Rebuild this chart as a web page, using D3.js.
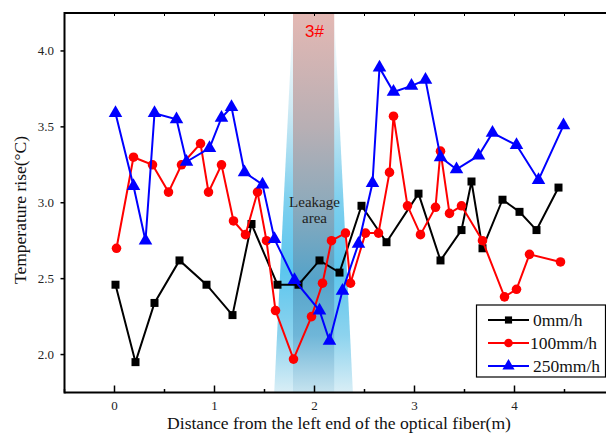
<!DOCTYPE html>
<html><head><meta charset="utf-8">
<script src="https://cdn.jsdelivr.net/npm/d3@7"></script>
<style>body{margin:0;background:#fff}svg{display:block}</style>
</head><body>
<svg id="c" width="606" height="434"></svg>
<script>
const blackX=[0.01,0.21,0.40,0.65,0.92,1.18,1.37,1.63,1.84,2.05,2.25,2.47,2.72,3.04,3.26,3.47,3.57,3.68,3.88,4.05,4.22,4.44];
const blackY=[2.46,1.95,2.34,2.62,2.46,2.26,2.86,2.46,2.46,2.62,2.54,2.98,2.74,3.06,2.62,2.82,3.14,2.70,3.02,2.94,2.82,3.10];
const redX=[0.02,0.19,0.38,0.54,0.67,0.86,0.94,1.07,1.19,1.31,1.43,1.52,1.61,1.79,1.97,2.08,2.17,2.31,2.36,2.51,2.64,2.75,2.79,2.93,3.06,3.21,3.26,3.35,3.47,3.68,3.90,4.02,4.15,4.46];
const redY=[2.70,3.30,3.25,3.07,3.25,3.39,3.07,3.25,2.88,2.79,3.07,2.75,2.29,1.97,2.25,2.47,2.75,2.80,2.47,2.80,2.80,3.20,3.57,2.98,2.79,2.97,3.34,2.93,2.98,2.75,2.38,2.43,2.66,2.61];
const blueX=[0.01,0.19,0.31,0.40,0.62,0.72,0.95,1.07,1.17,1.30,1.48,1.60,1.80,2.05,2.15,2.28,2.44,2.58,2.65,2.79,2.97,3.11,3.26,3.42,3.64,3.78,4.02,4.24,4.49];
const blueY=[3.59,3.11,2.75,3.59,3.55,3.27,3.36,3.56,3.63,3.20,3.12,2.76,2.49,2.29,2.09,2.42,2.73,3.13,3.89,3.73,3.77,3.81,3.30,3.22,3.31,3.46,3.38,3.15,3.51];
const seriesNames=["0mm/h","100mm/h","250mm/h"];
const xTicks=[0,1,2,3,4];
const yTicks=[2.0,2.5,3.0,3.5,4.0];
const leakRange=[1.785,2.197];   // dark band
const leakWide=[1.597,2.384];    // trapezoid bottom

const svg=d3.select("#c");
const x=d3.scaleLinear().domain([-0.5,5.0]).range([64.5,614.5]);
const y=d3.scaleLinear().domain([1.75,4.25]).range([392.5,13]);
const serif="'Liberation Serif','Times New Roman',serif";

const defs=svg.append("defs");
const g1=defs.append("linearGradient").attr("id","trap").attr("x1",0).attr("y1",0).attr("x2",0).attr("y2",1);
[[0,"#ffffff"],[0.25,"#cfeaf4"],[0.5,"#7ccfee"],[0.68,"#5cc6ee"],[0.85,"#8dd3ee"],[1,"#d9eef6"]].forEach(s=>g1.append("stop").attr("offset",s[0]).attr("stop-color",s[1]));
const g2=defs.append("linearGradient").attr("id","rect").attr("x1",0).attr("y1",0).attr("x2",0).attr("y2",1);
[[0,"#e4b8b3"],[0.3,"#b8afb4"],[0.5,"#8eaabb"],[0.7,"#55a3c9"],[0.85,"#6fb6d8"],[1,"#c6e3ef"]].forEach(s=>g2.append("stop").attr("offset",s[0]).attr("stop-color",s[1]));

const yTop=y(4.25), yBot=y(1.75);
svg.append("path").attr("fill","url(#trap)")
  .attr("d",`M${x(leakRange[0])},${yTop}L${x(leakRange[1])},${yTop}L${x(leakWide[1])},${yBot}L${x(leakWide[0])},${yBot}Z`);
svg.append("rect").attr("fill","url(#rect)")
  .attr("x",x(leakRange[0])).attr("y",yTop).attr("width",x(leakRange[1])-x(leakRange[0])).attr("height",yBot-yTop);

svg.append("text").attr("x",x(2.0)).attr("y",37).attr("text-anchor","middle")
  .attr("font-family","'Liberation Sans',Arial,sans-serif").attr("font-size",17).attr("fill","#ff0000")
  .text("3#");
svg.append("text").attr("x",x(2.0)).attr("y",207).attr("text-anchor","middle")
  .attr("font-family",serif).attr("font-size",15).attr("fill","#222").text("Leakage");
svg.append("text").attr("x",x(2.0)).attr("y",223).attr("text-anchor","middle")
  .attr("font-family",serif).attr("font-size",15).attr("fill","#222").text("area");

// frame
svg.append("line").attr("x1",x(-0.5)).attr("x2",606).attr("y1",yTop).attr("y2",yTop).attr("stroke","#000").attr("stroke-width",2);
svg.append("line").attr("x1",x(-0.5)).attr("x2",606).attr("y1",yBot).attr("y2",yBot).attr("stroke","#000").attr("stroke-width",2);
svg.append("line").attr("x1",x(-0.5)).attr("x2",x(-0.5)).attr("y1",yTop-1).attr("y2",yBot+1).attr("stroke","#000").attr("stroke-width",2);

const minorX=d3.range(-0.5,5.01,0.5);
// top ticks
svg.append("g").selectAll("line").data(minorX).join("line")
  .attr("x1",d=>x(d)).attr("x2",d=>x(d)).attr("y1",yTop).attr("y2",yTop+3).attr("stroke","#000").attr("stroke-width",1);
// bottom ticks
svg.append("g").selectAll("line").data(minorX).join("line")
  .attr("x1",d=>x(d)).attr("x2",d=>x(d)).attr("y1",yBot).attr("y2",d=>yBot-(Number.isInteger(d)?7:3.5)).attr("stroke","#000").attr("stroke-width",1.5);
svg.append("g").selectAll("text").data(xTicks).join("text")
  .attr("x",d=>x(d)).attr("y",410).attr("text-anchor","middle").attr("font-family",serif).attr("font-size",13).attr("fill","#222")
  .text(d=>d);
// left ticks
svg.append("g").selectAll("line").data(yTicks).join("line")
  .attr("x1",x(-0.5)).attr("x2",x(-0.5)-4).attr("y1",d=>y(d)).attr("y2",d=>y(d)).attr("stroke","#000").attr("stroke-width",1.5);
svg.append("g").selectAll("text").data(yTicks).join("text")
  .attr("x",54).attr("y",d=>y(d)+4.5).attr("text-anchor","end").attr("font-family",serif).attr("font-size",13).attr("fill","#222")
  .text(d=>d.toFixed(1));

svg.append("text").attr("x",339).attr("y",429).attr("text-anchor","middle").attr("font-family",serif).attr("font-size",17.6).attr("fill","#111")
  .text("Distance from the left end of the optical fiber(m)");
svg.append("text").attr("transform","translate(26,210) rotate(-90)").attr("text-anchor","middle").attr("font-family",serif).attr("font-size",17.5).attr("fill","#111")
  .text("Temperature rise(°C)");

const series=[
  {xs:blackX,ys:blackY,color:"#000000",sym:d3.symbolSquare,size:64},
  {xs:redX,ys:redY,color:"#ff0000",sym:d3.symbolCircle,size:72},
  {xs:blueX,ys:blueY,color:"#0000ff",sym:d3.symbolTriangle,size:80}
];
const line=d3.line().x(d=>x(d[0])).y(d=>y(d[1]));
series.forEach(s=>{
  const pts=s.xs.map((v,i)=>[v,s.ys[i]]);
  svg.append("path").attr("d",line(pts)).attr("fill","none").attr("stroke",s.color).attr("stroke-width",2);
  svg.append("g").selectAll("path").data(pts).join("path")
    .attr("transform",d=>`translate(${x(d[0])},${y(d[1])})`)
    .attr("d",d3.symbol().type(s.sym).size(s.size)).attr("fill",s.color);
});

// legend
const lg=svg.append("g");
lg.append("rect").attr("x",476.5).attr("y",305).attr("width",129).attr("height",72).attr("fill","#fff").attr("stroke","#000").attr("stroke-width",1.2);
const ly=[320,343,366];
series.forEach((s,i)=>{
  lg.append("line").attr("x1",488).attr("x2",529).attr("y1",ly[i]).attr("y2",ly[i]).attr("stroke",s.color).attr("stroke-width",2);
  lg.append("path").attr("transform",`translate(508.5,${ly[i]})`).attr("d",d3.symbol().type(s.sym).size(s.size*0.8)).attr("fill",s.color);
  lg.append("text").attr("x",i===1?530:533).attr("y",ly[i]+6).attr("font-family",serif).attr("font-size",17.5).attr("fill","#111").text(seriesNames[i]);
});
</script>
</body></html>
